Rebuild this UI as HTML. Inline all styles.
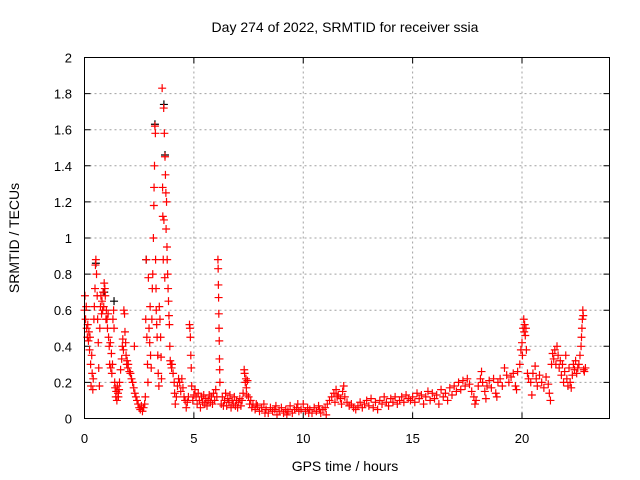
<!DOCTYPE html>
<html><head><meta charset="utf-8"><style>
html,body{margin:0;padding:0;background:#fff;}
svg{display:block;font-family:"Liberation Sans",sans-serif;}
</style></head><body>
<svg id="chart" width="640" height="480" viewBox="0 0 640 480" xmlns="http://www.w3.org/2000/svg">
<rect width="640" height="480" fill="#fff"/>
<text x="345" y="32" font-size="14" text-anchor="middle" fill="#000">Day 274 of 2022, SRMTID for receiver ssia</text>
<text x="345" y="471" font-size="14" text-anchor="middle" fill="#000">GPS time / hours</text>
<text x="19" y="238" font-size="14" text-anchor="middle" fill="#000" transform="rotate(-90 19 238)">SRMTID / TECUs</text>
<g id="grid"></g>
<g id="ticks"></g>
<g id="black"></g>
<g id="red"></g>
<rect x="84.5" y="57.5" width="525" height="361" fill="none" stroke="#000" stroke-width="1"/>
</svg>
<script>
const xTicks = [0, 5, 10, 15, 20];
const yTicks = [0, 0.2, 0.4, 0.6, 0.8, 1, 1.2, 1.4, 1.6, 1.8, 2];
const yTickLabels = ["0", "0.2", "0.4", "0.6", "0.8", "1", "1.2", "1.4", "1.6", "1.8", "2"];
const redTimes = [
0.00,0.02,0.05,0.08,0.10,0.13,0.15,0.18,0.20,0.23,0.25,0.28,0.30,0.33,0.35,0.38,0.40,0.43,0.45,0.48,0.50,0.52,0.55,0.58,0.60,0.63,0.65,0.68,0.70,0.73,0.75,0.78,0.80,0.83,0.85,0.88,0.90,0.93,0.95,0.98,1.00,
1.03,1.05,1.08,1.10,1.13,1.15,1.18,1.20,1.23,1.25,1.28,1.30,1.33,1.35,1.38,1.40,1.43,1.45,1.48,1.50,1.53,1.55,1.58,1.60,1.65,1.70,1.73,1.75,1.78,1.80,1.83,1.85,1.88,1.90,1.93,1.95,1.98,
2.00,2.05,2.10,2.15,2.20,2.25,2.28,2.30,2.35,2.40,2.45,2.50,2.55,2.60,2.65,2.70,2.75,2.78,
2.80,2.82,2.85,2.88,2.90,2.92,2.95,2.98,3.00,3.02,3.05,3.08,3.10,3.12,3.15,3.17,3.18,3.20,3.22,3.24,3.25,3.27,3.28,3.30,3.32,3.35,3.37,3.40,
3.42,3.45,3.48,3.50,3.52,3.55,3.57,3.58,3.60,3.62,3.63,3.65,3.67,3.68,3.70,3.72,3.73,3.75,3.77,3.78,3.80,3.82,3.84,3.86,3.88,3.90,3.92,3.95,3.98,4.00,
4.05,4.10,4.12,4.15,4.20,4.25,4.30,4.35,4.40,4.45,4.50,4.55,4.60,4.65,4.70,4.75,4.80,4.82,4.84,4.86,4.88,4.90,4.95,5.00,
5.05,5.10,5.15,5.20,5.25,5.30,5.35,5.40,5.45,5.50,5.55,5.60,5.65,5.70,5.75,5.80,5.85,5.90,5.95,6.00,6.05,
6.10,6.11,6.12,6.13,6.14,6.15,6.16,6.17,6.18,6.19,
6.25,6.30,6.35,6.40,6.45,6.50,6.55,6.60,6.65,6.70,6.75,6.80,6.85,6.90,6.95,7.00,7.05,7.10,7.15,7.20,7.25,
7.30,7.32,7.35,7.38,7.40,7.42,7.45,7.50,7.55,7.60,7.65,7.70,
7.8,7.9,8.0,8.1,8.2,8.3,8.4,8.5,8.6,8.7,8.8,8.9,9.0,9.1,9.2,9.3,9.4,9.5,9.6,9.7,9.8,9.9,10.0,10.1,10.2,10.3,10.4,10.5,10.6,10.7,10.8,10.9,11.0,11.1,
7.85,8.25,8.75,9.25,9.75,10.25,10.75,11.05,
11.2,11.3,11.4,11.5,11.55,11.6,11.7,11.8,11.85,11.9,12.0,12.1,12.2,12.3,12.4,12.5,11.45,11.75,
12.6,12.7,12.8,12.9,13.0,13.1,13.2,13.3,13.4,13.5,13.6,13.7,13.8,13.9,14.0,14.1,14.2,14.3,14.4,14.5,14.6,14.7,14.8,14.9,15.0,15.1,15.2,15.3,15.4,15.5,15.6,15.7,15.8,15.9,16.0,
16.1,16.2,16.3,16.4,16.5,16.6,16.7,16.8,16.9,17.0,17.1,17.2,17.3,17.4,17.5,17.6,
17.7,17.8,17.85,17.9,18.0,18.1,18.15,18.2,18.3,18.35,18.4,18.5,18.6,18.7,18.8,18.85,18.9,19.0,19.1,19.2,19.3,19.4,19.5,19.6,19.7,19.75,19.8,19.9,
19.95,20.0,20.02,20.05,20.08,20.1,20.12,20.15,20.18,20.2,20.25,
20.3,20.4,20.45,20.5,20.6,20.65,20.7,20.8,20.9,21.0,21.1,21.2,21.25,21.3,
21.35,21.4,21.45,21.5,21.55,21.6,21.65,21.7,21.75,21.8,21.85,21.9,21.95,22.0,22.05,22.1,22.15,22.2,22.25,22.3,22.35,22.4,22.45,22.5,22.55,
22.6,22.65,22.7,22.72,22.74,22.76,22.78,22.8,22.82,22.85,22.9
];
const redValues = [
0.60,0.68,0.55,0.62,0.50,0.45,0.52,0.43,0.48,0.38,0.45,0.30,0.18,0.35,0.25,0.16,0.22,0.55,0.62,0.72,0.85,0.88,0.80,0.68,0.55,0.42,0.28,0.18,0.50,0.62,0.68,0.58,0.65,0.60,0.70,0.62,0.75,0.72,0.68,0.55,0.60,
0.55,0.50,0.58,0.45,0.40,0.30,0.42,0.28,0.36,0.25,0.30,0.55,0.60,0.50,0.20,0.17,0.12,0.15,0.10,0.18,0.14,0.12,0.16,0.20,0.27,0.33,0.40,0.44,0.38,0.60,0.58,0.48,0.42,0.35,0.30,0.32,0.28,
0.30,0.26,0.25,0.22,0.20,0.17,0.40,0.14,0.12,0.10,0.08,0.06,0.05,0.07,0.04,0.06,0.08,0.12,
0.55,0.88,0.45,0.30,0.20,0.78,0.50,0.42,0.62,0.35,0.28,0.55,0.72,0.80,1.00,1.18,1.28,1.40,1.62,1.58,0.88,0.72,0.60,0.52,0.45,0.35,0.25,0.18,
0.62,0.55,0.45,0.34,0.22,1.83,1.28,1.12,0.88,1.72,1.10,1.58,0.78,1.45,1.35,1.25,1.05,1.20,0.95,0.88,0.80,0.72,0.65,0.57,0.52,0.40,0.32,0.30,0.28,0.30,
0.25,0.20,0.14,0.08,0.12,0.18,0.22,0.20,0.15,0.22,0.17,0.12,0.10,0.06,0.09,0.12,0.52,0.50,0.45,0.35,0.28,0.18,0.10,0.13,
0.16,0.12,0.08,0.14,0.10,0.06,0.12,0.09,0.13,0.08,0.11,0.07,0.10,0.13,0.09,0.12,0.08,0.14,0.10,0.16,0.12,
0.88,0.83,0.74,0.67,0.58,0.50,0.43,0.33,0.27,0.20,
0.08,0.12,0.07,0.10,0.14,0.07,0.11,0.09,0.13,0.06,0.10,0.08,0.12,0.07,0.10,0.06,0.09,0.11,0.07,0.10,0.14,
0.27,0.25,0.20,0.22,0.17,0.13,0.21,0.12,0.08,0.10,0.06,0.08,
0.05,0.07,0.04,0.06,0.08,0.05,0.03,0.06,0.04,0.05,0.02,0.04,0.06,0.03,0.05,0.04,0.07,0.03,0.05,0.06,0.04,0.05,0.08,0.04,0.06,0.05,0.03,0.06,0.04,0.07,0.03,0.05,0.06,0.08,
0.08,0.03,0.07,0.02,0.08,0.03,0.05,0.02,
0.10,0.12,0.14,0.16,0.12,0.13,0.11,0.15,0.18,0.12,0.09,0.07,0.08,0.06,0.05,0.07,0.09,0.08,
0.09,0.06,0.08,0.10,0.07,0.11,0.06,0.09,0.05,0.10,0.08,0.12,0.09,0.07,0.11,0.09,0.12,0.08,0.10,0.12,0.09,0.13,0.11,0.10,0.12,0.09,0.14,0.11,0.13,0.08,0.12,0.15,0.10,0.14,0.11,
0.13,0.08,0.16,0.12,0.14,0.10,0.17,0.13,0.18,0.15,0.20,0.16,0.21,0.18,0.22,0.19,
0.15,0.12,0.08,0.10,0.18,0.22,0.26,0.20,0.15,0.11,0.18,0.21,0.17,0.22,0.14,0.12,0.20,0.22,0.18,0.28,0.24,0.20,0.23,0.25,0.18,0.16,0.26,0.30,
0.38,0.42,0.35,0.50,0.55,0.48,0.52,0.46,0.50,0.38,0.25,
0.22,0.20,0.13,0.25,0.29,0.22,0.18,0.24,0.20,0.17,0.23,0.19,0.14,0.10,
0.30,0.36,0.33,0.38,0.30,0.40,0.35,0.28,0.32,0.24,0.30,0.20,0.26,0.35,0.22,0.18,0.28,0.20,0.17,0.24,0.30,0.27,0.32,0.25,0.28,
0.30,0.35,0.40,0.45,0.50,0.55,0.60,0.57,0.27,0.26,0.28
];
const blackTimes = [0.52, 0.90, 1.35, 2.82, 3.22, 3.63, 3.68];
const blackValues = [0.86, 0.70, 0.65, 0.88, 1.63, 1.74, 1.46];

const X0 = 84.5, X1 = 609.5, Y0 = 418.5, Y1 = 57.5, XMAX = 24, YMAX = 2;
function xs(h){ return X0 + (h / XMAX) * (X1 - X0); }
function ys(v){ return Y0 - (v / YMAX) * (Y0 - Y1); }
const NS = "http://www.w3.org/2000/svg";
function mk(tag, attrs, parent){
  const e = document.createElementNS(NS, tag);
  for (const k in attrs) e.setAttribute(k, attrs[k]);
  parent.appendChild(e);
  return e;
}
const grid = document.getElementById('grid');
const ticks = document.getElementById('ticks');
yTicks.forEach((v, i) => {
  const y = ys(v);
  if (i > 0 && i < yTicks.length - 1) {
    const g = mk('line', {x1: X0, x2: X1, y1: y, y2: y, stroke: '#a0a0a0', 'stroke-width': 1, 'stroke-dasharray': '2,3'}, grid);
    
    
  }
  const t = mk('path', {d: `M${X0},${y}h6M${X1},${y}h-6`, stroke: '#000', 'stroke-width': 1}, ticks);
  
  
  const l = mk('text', {x: 72, y: y + 5, 'font-size': 13, 'text-anchor': 'end', fill: '#000'}, ticks);
  l.textContent = yTickLabels[i];
  
  
});
xTicks.forEach((h) => {
  const x = xs(h);
  if (h > 0) {
    const g = mk('line', {x1: x, x2: x, y1: Y0, y2: Y1, stroke: '#a0a0a0', 'stroke-width': 1, 'stroke-dasharray': '2,3'}, grid);
    
    
  }
  const t = mk('path', {d: `M${x},${Y0}v-6M${x},${Y1}v6`, stroke: '#000', 'stroke-width': 1}, ticks);
  
  
  const l = mk('text', {x: x, y: 443, 'font-size': 13, 'text-anchor': 'middle', fill: '#000'}, ticks);
  l.textContent = String(h);
  
  
});
function plus(times, values, parent, color, name){
  times.forEach((h, i) => {
    const x = xs(h), y = ys(values[i]);
    const p = mk('path', {d: `M${x-4},${y}h8M${x},${y-4}v8`, stroke: color, 'stroke-width': 1.2, fill: 'none'}, parent);
    
    
  });
}
plus(blackTimes, blackValues, document.getElementById('black'), '#000', 'black-point');
plus(redTimes, redValues, document.getElementById('red'), '#ff0000', 'red-point');
</script>
</body></html>
